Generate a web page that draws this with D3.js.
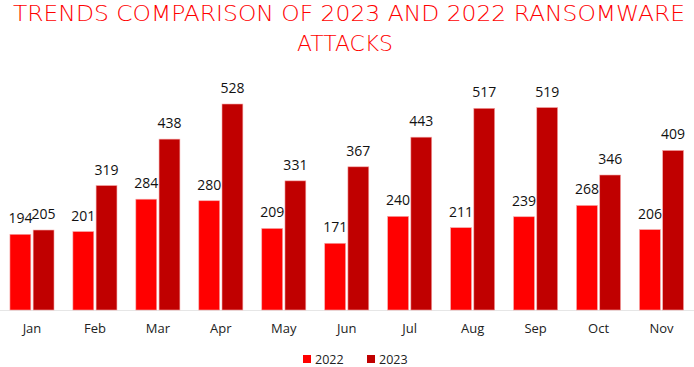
<!DOCTYPE html>
<html>
<head>
<meta charset="utf-8">
<script src="https://cdn.jsdelivr.net/npm/d3@7"></script>
<style>
  body { margin: 0; background: #fff; }
  svg { display: block; }
</style>
</head>
<body>
<div id="chart"></div>
<script>
// chart data
var months = ["Jan", "Feb", "Mar", "Apr", "May", "Jun", "Jul", "Aug", "Sep", "Oct", "Nov"];
var seriesNames = ["2022", "2023"];
var values2022 = [194, 201, 284, 280, 209, 171, 240, 211, 239, 268, 206];
var values2023 = [205, 319, 438, 528, 331, 367, 443, 517, 519, 346, 409];
var colors = ["#FF0000", "#C00000"];

var width = 694, height = 367;
var baseline = 310;

var svg = d3.select("#chart").append("svg")
  .attr("width", width)
  .attr("height", height);

// title, two lines
var title = svg.append("text")
  .attr("text-anchor", "middle")
  .style("font-family", "'DejaVu Sans', sans-serif")
  .style("font-weight", "200")
  .style("font-size", "21px")
  .style("fill", "#FF0000");
title.append("tspan").attr("x", 349).attr("y", 21)
  .attr("textLength", 672).attr("lengthAdjust", "spacingAndGlyphs")
  .text("TRENDS COMPARISON OF  2023 AND 2022 RANSOMWARE");
title.append("tspan").attr("x", 345).attr("y", 51)
  .attr("textLength", 96).attr("lengthAdjust", "spacingAndGlyphs")
  .text("ATTACKS");

var x = d3.scaleBand()
  .domain(months)
  .range([0.5, 693])
  .paddingInner(0.3)
  .paddingOuter(0.15);

var xSub = d3.scaleBand()
  .domain(seriesNames)
  .range([0, x.bandwidth()])
  .paddingInner(0.1);

var y = d3.scaleLinear()
  .domain([0, 528])
  .range([baseline, 104]);

// baseline
svg.append("line")
  .attr("x1", 0).attr("x2", width)
  .attr("y1", baseline + 0.5).attr("y2", baseline + 0.5)
  .attr("stroke", "#e6e6e6");

var rows = months.map(function(m, i) {
  return {month: m, vals: [values2022[i], values2023[i]]};
});

var groups = svg.append("g").selectAll("g")
  .data(rows)
  .enter().append("g")
  .attr("transform", function(d) { return "translate(" + x(d.month) + ",0)"; });

groups.selectAll("rect")
  .data(function(d) { return d.vals.map(function(v, j) { return {key: seriesNames[j], v: v, j: j}; }); })
  .enter().append("rect")
  .attr("x", function(d) { return xSub(d.key); })
  .attr("width", xSub.bandwidth())
  .attr("y", function(d) { return y(d.v); })
  .attr("height", function(d) { return baseline - y(d.v); })
  .attr("fill", function(d) { return colors[d.j]; })
  .attr("stroke", "#f5a8a8")
  .attr("stroke-width", 0.6);

groups.selectAll("text.val")
  .data(function(d) { return d.vals.map(function(v, j) { return {key: seriesNames[j], v: v}; }); })
  .enter().append("text")
  .attr("class", "val")
  .attr("x", function(d) { return xSub(d.key) + xSub.bandwidth() / 2; })
  .attr("y", function(d) { return y(d.v) - 11; })
  .attr("text-anchor", "middle")
  .style("font-family", "'Open Sans', sans-serif")
  .style("font-size", "14px")
  .style("fill", "#111")
  .text(function(d) { return d.v; });

// month labels
svg.append("g").selectAll("text")
  .data(months)
  .enter().append("text")
  .attr("x", function(d) { return x(d) + x.bandwidth() / 2; })
  .attr("y", 333)
  .attr("text-anchor", "middle")
  .style("font-family", "'Open Sans', sans-serif")
  .style("font-size", "13px")
  .style("fill", "#222")
  .text(function(d) { return d; });

// legend
var legend = svg.append("g").selectAll("g")
  .data(seriesNames)
  .enter().append("g")
  .attr("transform", function(d, i) { return "translate(" + (303 + i * 64) + ",355)"; });
legend.append("rect")
  .attr("width", 8).attr("height", 8)
  .attr("fill", function(d, i) { return colors[i]; });
legend.append("text")
  .attr("x", 12).attr("y", 8.5)
  .style("font-family", "'Open Sans', sans-serif")
  .style("font-size", "12.5px")
  .style("fill", "#222")
  .text(function(d) { return d; });
</script>
</body>
</html>
